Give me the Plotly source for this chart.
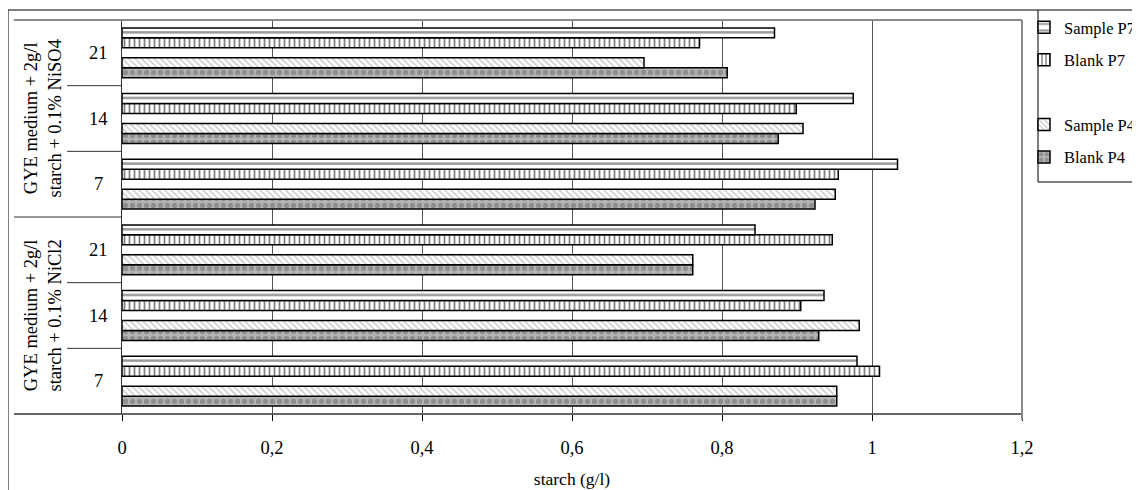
import plotly.graph_objects as go

# ---- data ----
groups = ["NiCl2", "NiCl2", "NiCl2", "NiSO4", "NiSO4", "NiSO4"]
days = ["7", "14", "21", "7", "14", "21"]
categories = [g + " " + d for g, d in zip(groups, days)]
group_labels = {
    "NiSO4": "GYE medium + 2g/l<br>starch + 0.1% NiSO4",
    "NiCl2": "GYE medium + 2g/l<br>starch + 0.1% NiCl2",
}
sample_p7 = [0.980, 0.936, 0.844, 1.034, 0.975, 0.870]
blank_p7 = [1.010, 0.905, 0.947, 0.955, 0.899, 0.770]
sample_p4 = [0.953, 0.983, 0.761, 0.951, 0.908, 0.696]
blank_p4 = [0.953, 0.929, 0.761, 0.924, 0.875, 0.807]
empty_series = [0, 0, 0, 0, 0, 0]
x_ticks = [0, 0.2, 0.4, 0.6, 0.8, 1.0, 1.2]

FONT = "Liberation Serif"
FS = 18.5
LEG_FS = 16.5

fig = go.Figure()

def add(name, vals, color, shape, fg, size, sol, rank, lw=1.5):
    fig.add_trace(go.Bar(
        y=categories, x=vals, orientation="h", name=name, legendgroup=name,
        legendrank=rank,
        marker=dict(color=color, line=dict(color="black", width=lw),
                    pattern=dict(shape=shape, fgcolor=fg, bgcolor=color,
                                 size=size, solidity=sol, fillmode="overlay")),
    ))

# bottom to top within each group
add("Blank P4", blank_p4, "#b4b4b4", ".", "#6a6a6a", 7, 0.45, 5)
add("Sample P4", sample_p4, "white", "\\", "#9a9a9a", 4.5, 0.35, 4)
fig.add_trace(go.Bar(y=categories, x=empty_series, orientation="h", name=" ",
                     legendgroup="gap", legendrank=3,
                     marker=dict(color="rgba(0,0,0,0)", line=dict(width=0))))
add("Blank P7", blank_p7, "white", "|", "black", 5, 0.35, 2)
add("Sample P7", sample_p7, "white", "-", "#333333", 8.208, 0.3, 1)

OFF = 8  # page body margin
W, H = 1132, 482
L, T = 122 - OFF, 20 - OFF
pw, ph = 900, 394
R = W - L - pw
B = H - T - ph

def px_x(p):
    return (p - OFF - L) / pw

def px_y(p):
    return (T + ph - (p - OFF)) / ph

shapes = []
def hline(x0, x1, y, color="black", w=1):
    shapes.append(dict(type="line", xref="paper", yref="paper", x0=x0, x1=x1,
                       y0=y, y1=y, line=dict(color=color, width=w)))

def vline(x, y0, y1, color="black", w=1):
    shapes.append(dict(type="line", xref="paper", yref="paper", x0=x, x1=x,
                       y0=y0, y1=y1, line=dict(color=color, width=w)))

# outer border
vline(px_x(8), px_y(10), px_y(600))
hline(px_x(8), px_x(1300), px_y(10))
# legend box
vline(px_x(1038), px_y(10), px_y(182))
hline(px_x(1038), px_x(1300), px_y(182))
# plot area frame extended into label area
hline(px_x(14), 1, 1, "#888888", 2)
hline(px_x(14), 1, 0, "#333333", 1.5)
vline(1, px_y(420), 1, "#888888", 2)
# category separators
n = len(categories)
for k in range(1, n):
    x0 = px_x(14) if k == 3 else px_x(67)
    hline(x0, 0, k / n, "#333333", 1)

annotations = []
for c, d in zip(categories, days):
    annotations.append(dict(x=px_x(98), y=c, xref="paper", yref="y", text=d,
                            xanchor="center", yanchor="middle", showarrow=False,
                            font=dict(family=FONT, size=FS, color="black")))
for g, mid in [("NiCl2", categories[1]), ("NiSO4", categories[4])]:
    annotations.append(dict(x=px_x(42), y=mid, xref="paper", yref="y", text=group_labels[g],
                            textangle=-90, xanchor="center", yanchor="middle",
                            showarrow=False,
                            font=dict(family=FONT, size=FS, color="black")))

fig.update_layout(
    width=W, height=H,
    margin=dict(l=L, r=R, t=T, b=B, autoexpand=False),
    paper_bgcolor="white", plot_bgcolor="white",
    barmode="group", bargap=0.24, bargroupgap=0,
    separators=",.",
    font=dict(family=FONT, size=FS, color="black"),
    xaxis=dict(range=[0, 1.2], tickvals=x_ticks, ticks="outside", ticklen=6,
               tickcolor="black", showgrid=True, gridcolor="#555555", gridwidth=1,
               zeroline=False, showline=False, ticklabelstandoff=11,
               tickfont=dict(family=FONT, size=FS, color="black"),
               title=dict(text="starch (g/l)", standoff=15,
                          font=dict(family=FONT, size=FS - 1, color="black"))),
    yaxis=dict(categoryorder="array", categoryarray=categories, showticklabels=False,
               showgrid=False, zeroline=False, showline=True, linecolor="#333333",
               linewidth=1, ticks=""),
    legend=dict(x=px_x(1024), y=px_y(10), xanchor="left", yanchor="top",
                traceorder="grouped", tracegroupgap=8, borderwidth=0,
                bgcolor="rgba(0,0,0,0)", font=dict(family=FONT, size=LEG_FS, color="black"),
                itemclick=False),
    shapes=shapes, annotations=annotations,
)

fig.write_html("out.html")
